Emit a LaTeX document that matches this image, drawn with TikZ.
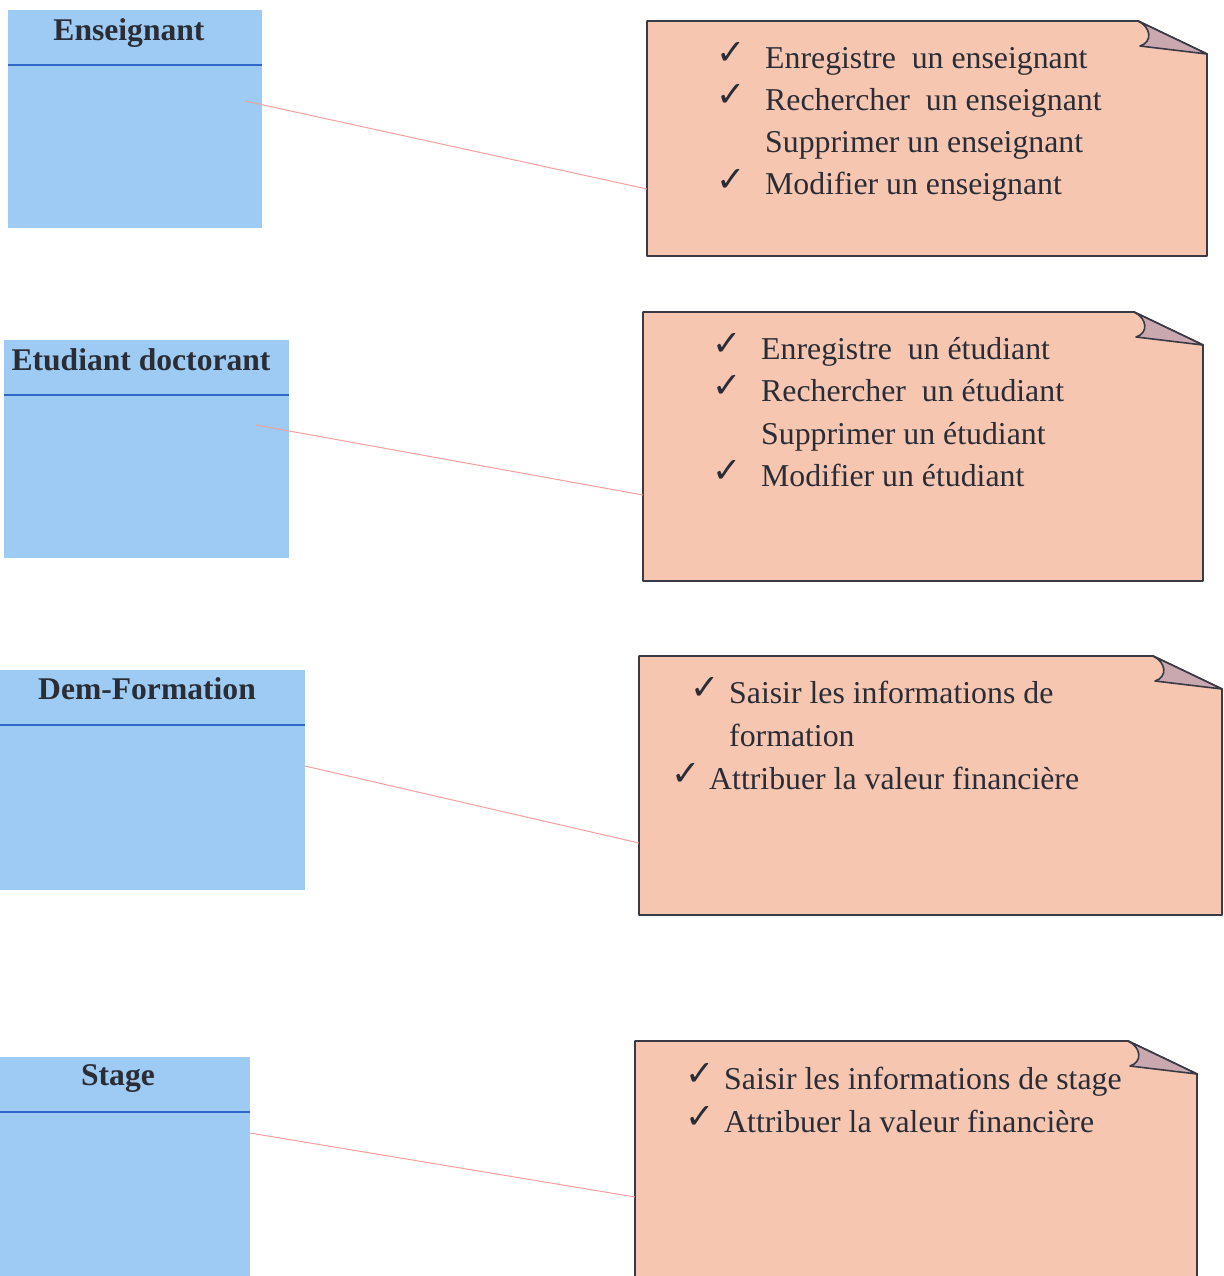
\documentclass[tikz,border=0pt]{standalone}
\usepackage{fontspec}
\setmainfont{Liberation Serif}
\newfontfamily\symfont{DejaVu Sans}
\definecolor{boxblue}{HTML}{9ECBF3}
\definecolor{sepblue}{HTML}{2F68C8}
\definecolor{inkgray}{HTML}{2A2C36}
\definecolor{notefill}{HTML}{F6C6B1}
\definecolor{noteline}{HTML}{3A3A46}
\definecolor{foldfill}{HTML}{C9A9AF}
\definecolor{linkpink}{HTML}{F2A0A0}
% note sheet with a curled top-right corner, drawn around an empty node
\newcommand\notesheet[1]{%
  \path[notebody] (#1.north west) -- ([xshift=-69pt]#1.north east)
    -- ([yshift=-33pt]#1.north east) -- (#1.south east) -- (#1.south west) -- cycle;
  \path[notefold] ([xshift=-69pt]#1.north east) -- ([yshift=-33pt]#1.north east)
    -- ([xshift=-67pt,yshift=-25pt]#1.north east)
    .. controls ([xshift=-54pt,yshift=-21pt]#1.north east)
       and ([xshift=-56pt,yshift=-6pt]#1.north east) .. ([xshift=-69pt]#1.north east) -- cycle;
}
\begin{document}
\begin{tikzpicture}[x=1pt,y=-1pt,
  classbox/.style={fill=boxblue, draw=none, inner sep=0pt, outer sep=0pt, anchor=north west},
  sepline/.style={draw=sepblue, line width=1.3pt},
  classname/.style={font=\fontsize{31.6}{36}\selectfont\bfseries, text=inkgray, anchor=base, inner sep=0pt},
  item/.style={font=\fontsize{31.8}{36}\selectfont, text=inkgray, anchor=base west, inner sep=0pt},
  tick/.style={font=\symfont\bfseries\fontsize{35}{38}\selectfont, text=inkgray, anchor=base west, inner sep=0pt},
  notearea/.style={draw=none, inner sep=0pt, outer sep=0pt, anchor=north west},
  notebody/.style={fill=notefill, draw=noteline, line width=1.8pt, line join=round},
  notefold/.style={fill=foldfill, draw=noteline, line width=1.6pt, line join=round},
  link/.style={draw=linkpink, line width=1pt}]
\useasboundingbox (0,0) rectangle (1223,1276);
\clip (0,0) rectangle (1223,1276);

% class boxes
\node[classbox, minimum width=254pt, minimum height=218pt] (ens) at (8,10) {};
\node[classbox, minimum width=285pt, minimum height=218pt] (etu) at (4,340) {};
\node[classbox, minimum width=305pt, minimum height=220pt] (dem) at (0,670) {};
\node[classbox, minimum width=250pt, minimum height=225pt] (stg) at (0,1057) {};
\foreach \b in {ens,etu,dem,stg}
  \draw[sepline] ([yshift=-55pt]\b.north west) -- ([yshift=-55pt]\b.north east);
\node[classname] (ensT) at (129,41) {Enseignant};
\node[classname] (etuT) at (141,370) {Etudiant doctorant};
\node[classname] (demT) at (147,699) {Dem-Formation};
\node[classname] (stgT) at (118,1085) {Stage};

% note sheets
\node[notearea, minimum width=560pt, minimum height=235pt] (n1) at (647,21) {};
\node[notearea, minimum width=560pt, minimum height=269pt] (n2) at (643,312) {};
\node[notearea, minimum width=583pt, minimum height=259pt] (n3) at (639,656) {};
\node[notearea, minimum width=562pt, minimum height=260pt] (n4) at (635,1041) {};
\notesheet{n1}
\notesheet{n2}
\notesheet{n3}
\notesheet{n4}

% operations of Enseignant
\node[tick] (n1c1) at (716,65) {✓};
\node[tick] (n1c2) at (716,107) {✓};
\node[tick] (n1c4) at (716,191) {✓};
\node[item] (n1t1) at (765,69) {Enregistre\ \ un enseignant};
\node[item] (n1t2) at (765,111) {Rechercher\ \ un enseignant};
\node[item] (n1t3) at (765,153) {Supprimer un enseignant};
\node[item] (n1t4) at (765,195) {Modifier un enseignant};

% operations of Etudiant doctorant
\node[tick] (n2c1) at (712,355) {✓};
\node[tick] (n2c2) at (712,397) {✓};
\node[tick] (n2c4) at (712,482) {✓};
\node[item] (n2t1) at (761,359) {Enregistre\ \ un étudiant};
\node[item] (n2t2) at (761,401) {Rechercher\ \ un étudiant};
\node[item] (n2t3) at (761,444) {Supprimer un étudiant};
\node[item] (n2t4) at (761,486) {Modifier un étudiant};

% operations of Dem-Formation
\node[tick] (n3c1) at (690,699) {✓};
\node[tick] (n3c2) at (671,785) {✓};
\node[item] (n3t1) at (729,703) {Saisir les informations de};
\node[item] (n3t2) at (729,746) {formation};
\node[item] (n3t3) at (709,789) {Attribuer la valeur financière};

% operations of Stage
\node[tick] (n4c1) at (685,1085) {✓};
\node[tick] (n4c2) at (685,1128) {✓};
\node[item] (n4t1) at (724,1089) {Saisir les informations de stage};
\node[item] (n4t2) at (724,1132) {Attribuer la valeur financière};

% links between classes and their notes
\coordinate (ensP) at (245,101);  \coordinate (n1P) at (647,189);
\coordinate (etuP) at (256,425);  \coordinate (n2P) at (643,495);
\coordinate (demP) at (305,766);  \coordinate (n3P) at (639,843);
\coordinate (stgP) at (250,1133); \coordinate (n4P) at (635,1197);
\draw[link] (ensP) -- (n1P);
\draw[link] (etuP) -- (n2P);
\draw[link] (demP) -- (n3P);
\draw[link] (stgP) -- (n4P);
\end{tikzpicture}
\end{document}
